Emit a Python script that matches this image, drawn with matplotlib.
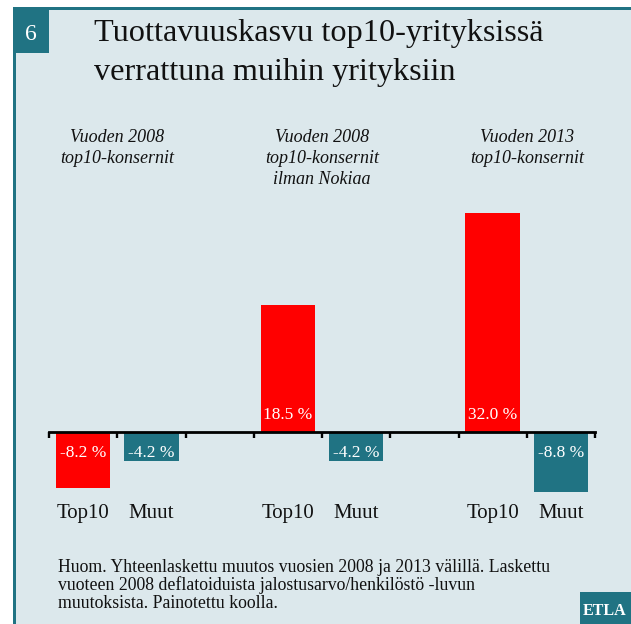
import matplotlib.pyplot as plt
from matplotlib.patches import Rectangle
from matplotlib.transforms import blended_transform_factory
import numpy as np

# data
values = [-8.2, -4.2, 18.5, -4.2, 32.0, -8.8]
positions = [0, 1, 3, 4, 6, 7]
bar_labels = ['Top10', 'Muut', 'Top10', 'Muut', 'Top10', 'Muut']
value_texts = ['-8.2 %', '-4.2 %', '18.5 %', '-4.2 %', '32.0 %', '-8.8 %']
group_titles = [['Vuoden 2008', 'top10-konsernit'],
                ['Vuoden 2008', 'top10-konsernit', 'ilman Nokiaa'],
                ['Vuoden 2013', 'top10-konsernit']]
group_centers = [0.5, 3.5, 6.5]
title_lines = ['Tuottavuuskasvu top10-yrityksissä', 'verrattuna muihin yrityksiin']
note_lines = ['Huom. Yhteenlaskettu muutos vuosien 2008 ja 2013 välillä. Laskettu',
              'vuoteen 2008 deflatoiduista jalostusarvo/henkilöstö -luvun',
              'muutoksista. Painotettu koolla.']

RED = '#ff0000'
TEAL = '#207383'
BG = '#dce8ec'

plt.rcParams['font.family'] = ['Liberation Serif', 'DejaVu Serif']

W, H = 631, 624
fig = plt.figure(figsize=(W / 100, H / 100), dpi=100)
fig.patch.set_facecolor('white')


def fx(px):
    return px / W


def fy(py):
    return 1 - py / H


def box(x0, y0, x1, y1, color, z):
    # pixel box, y measured from top
    fig.patches.append(Rectangle((fx(x0), fy(y1)), fx(x1 - x0), fy(y0) - fy(y1),
                                 transform=fig.transFigure, facecolor=color,
                                 edgecolor='none', zorder=z))


# panel background and border
box(13, 7, 640, 640, BG, -3)
box(13, 7, 640, 9.5, TEAL, -2)
box(13, 7, 15.5, 640, TEAL, -2)
box(13, 7, 49, 53, TEAL, -2)
box(580, 592, 640, 640, TEAL, -2)

fig.text(fx(31), fy(40), '6', color='white', fontsize=17, ha='center', va='baseline')
fig.text(fx(605), fy(615), 'ETLA', color='white', fontsize=11.5, fontweight='bold',
         ha='center', va='baseline')

for i, line in enumerate(title_lines):
    fig.text(fx(94), fy(41 + 39 * i), line, fontsize=23.2, color='#111111', va='baseline')

for i, line in enumerate(note_lines):
    fig.text(fx(58), fy(572 + 18 * i), line, fontsize=12.8, color='#111111', va='baseline')

# axes: 8 slots from x=49 to x=595, zero line at y=432
ymin, ymax = -10, 33
scale = 6.84
ax_left, ax_right = 49, 595
ax_top = 432 - ymax * scale
ax_bottom = 432 - ymin * scale
ax = fig.add_axes([fx(ax_left), fy(ax_bottom), fx(ax_right - ax_left), (ax_bottom - ax_top) / H])
ax.set_zorder(5)
ax.set_facecolor('none')
ax.set_xlim(-0.5, 7.5)
ax.set_ylim(ymin, ymax)

colors = [RED if lab == 'Top10' else TEAL for lab in bar_labels]
bars = ax.bar(positions, values, width=0.8, color=colors, edgecolor='none', zorder=2)

for p, v, t in zip(positions, values, value_texts):
    off = 12 if v > 0 else -15
    ax.annotate(t, (p, 0), xytext=(0, off), textcoords='offset points',
                ha='center', va='center', color='white', fontsize=12.5, zorder=3)

for s in ['left', 'right', 'top']:
    ax.spines[s].set_visible(False)
ax.spines['bottom'].set_position(('data', 0))
ax.spines['bottom'].set_linewidth(2)
ax.spines['bottom'].set_zorder(4)
ax.set_yticks([])
ax.set_xticks(positions, bar_labels)
ax.set_xticks(np.arange(-0.5, 8, 1), minor=True)
ax.tick_params(axis='x', which='major', length=0, pad=52, labelsize=15, labelcolor='#111111')
ax.tick_params(axis='x', which='minor', length=4.5, width=1.7, direction='out', color='black')

tr = blended_transform_factory(ax.transData, fig.transFigure)
for c, lines in zip(group_centers, group_titles):
    for i, line in enumerate(lines):
        ax.text(c, fy(142 + 21 * i), line, transform=tr, ha='center', va='baseline',
                fontsize=13, style='italic', color='#111111')

fig.savefig('out.png', dpi=100, facecolor=fig.get_facecolor())
